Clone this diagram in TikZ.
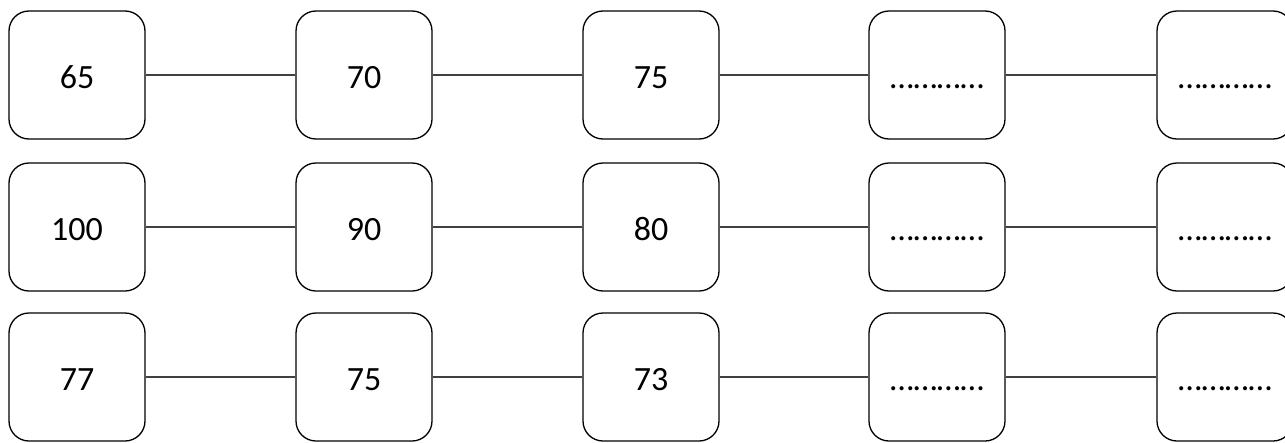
\documentclass[tikz,border=0pt]{standalone}
\usepackage{fontspec}
\setmainfont{Carlito}
\begin{document}
\begin{tikzpicture}[x=1pt,y=-1pt,
  numbox/.style={draw=black, line width=1.3pt, rounded corners=20pt, rectangle,
    minimum width=136pt, minimum height=128pt, inner sep=0pt,
    font=\fontsize{34}{40}\selectfont, text height=26pt, text depth=0pt},
  link/.style={draw=black!75, line width=1.3pt}]
\useasboundingbox (0,0) rectangle (1285,442);
\def\cxa{77}\def\cxb{364}\def\cxc{651}\def\cxd{937}\def\cxe{1225}
\foreach \r/\cy/\va/\vb/\vc in {1/75/65/70/75, 2/227/100/90/80, 3/377/77/75/73}{
  \node[numbox] (b\r a) at (\cxa,\cy) {\va};
  \node[numbox] (b\r b) at (\cxb,\cy) {\vb};
  \node[numbox] (b\r c) at (\cxc,\cy) {\vc};
  \node[numbox] (b\r d) at (\cxd,\cy) {…………};
  \node[numbox] (b\r e) at (\cxe,\cy) {…………};
  \draw[link] (b\r a.east) -- (b\r b.west);
  \draw[link] (b\r b.east) -- (b\r c.west);
  \draw[link] (b\r c.east) -- (b\r d.west);
  \draw[link] (b\r d.east) -- (b\r e.west);
}
\end{tikzpicture}
\end{document}
